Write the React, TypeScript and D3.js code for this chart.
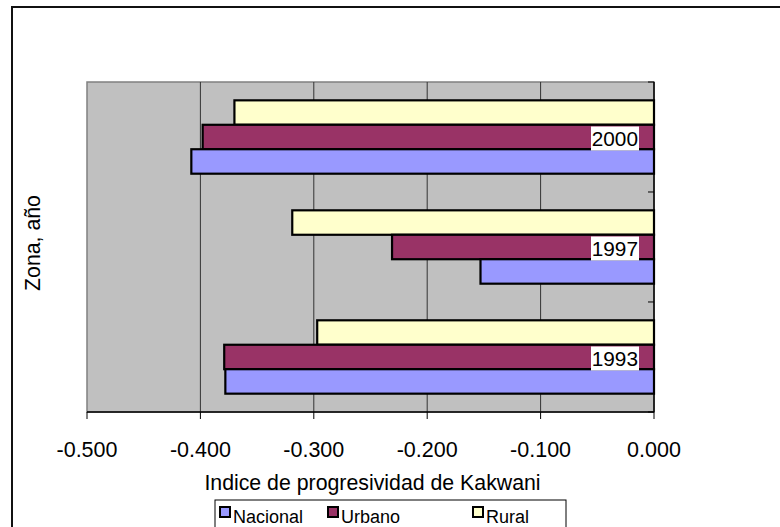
import React from "react";
import * as d3 from "d3";

const categories = ["2000", "1997", "1993"];
const seriesNames = ["Rural", "Urbano", "Nacional"];
const rural = [-0.370, -0.319, -0.297];
const urbano = [-0.398, -0.231, -0.379];
const nacional = [-0.408, -0.153, -0.378];
const xTicks = [-0.5, -0.4, -0.3, -0.2, -0.1, 0.0];
const xTickLabels = ["-0.500", "-0.400", "-0.300", "-0.200", "-0.100", "0.000"];
const legendNames = ["Nacional", "Urbano", "Rural"];
const colors: Record<string, string> = { Nacional: "#9999FF", Urbano: "#993366", Rural: "#FFFFCC" };

const FONT = "'Liberation Sans', Arial, Helvetica, sans-serif";

export default function App() {
  const W = 780, H = 527;
  const left = 87, right = 654, top = 82, bottom = 412;
  const x = d3.scaleLinear().domain([-0.5, 0]).range([left, right]);
  const y = d3.scaleBand().domain(categories).range([top, bottom]).paddingInner(0.333).paddingOuter(0.1667);
  const ySub = d3.scaleBand().domain(seriesNames).range([0, y.bandwidth()]);
  const dataBy: Record<string, number[]> = { Rural: rural, Urbano: urbano, Nacional: nacional };
  const bounds = d3.range(categories.length + 1).map(i => top + i * y.step());

  return (
    <svg width={W} height={H} style={{ position: "absolute", left: 0, top: 0 }} fontFamily={FONT}>
      <rect x={0} y={0} width={W} height={H} fill="#fff" />
      <rect x={12} y={7} width={900} height={700} fill="none" stroke="#111" strokeWidth={2} />
      <rect x={left} y={top} width={right - left} height={bottom - top} fill="#C0C0C0" stroke="#808080" strokeWidth={1.5} />
      {xTicks.filter(t => t > -0.5 && t < 0).map(t => (
        <line key={t} x1={x(t)} x2={x(t)} y1={top} y2={bottom} stroke="#333" strokeWidth={1} />
      ))}
      {categories.map((c, ci) =>
        seriesNames.map(s => {
          const v = dataBy[s][ci];
          const y0 = (y(c) as number) + (ySub(s) as number);
          return (
            <rect key={c + s} x={x(v)} y={y0} width={x(0) - x(v)} height={ySub.bandwidth()}
              fill={colors[s]} stroke="#000" strokeWidth={2.2} />
          );
        })
      )}
      {categories.map(c => {
        const yc = (y(c) as number) + (ySub("Urbano") as number) + ySub.bandwidth() / 2 + 1.5;
        return (
          <g key={"lab" + c}>
            <rect x={591} y={yc - 12} width={48} height={24} fill="#fff" />
            <text x={638} y={yc + 7.5} textAnchor="end" fontSize={20.8}>{c}</text>
          </g>
        );
      })}
      <line x1={right} x2={right} y1={top} y2={bottom} stroke="#000" strokeWidth={1.5} />
      {bounds.map((b, i) => (
        <line key={"yt" + i} x1={right - 6} x2={right} y1={b} y2={b} stroke="#000" strokeWidth={1} />
      ))}
      <line x1={left} x2={right} y1={bottom} y2={bottom} stroke="#000" strokeWidth={1.5} />
      {xTicks.map((t, i) => (
        <g key={"xt" + i}>
          <line x1={x(t)} x2={x(t)} y1={bottom} y2={bottom + 7} stroke="#000" strokeWidth={1} />
          <text x={x(t)} y={457} textAnchor="middle" fontSize={21.5}>{xTickLabels[i]}</text>
        </g>
      ))}
      <text x={372.5} y={490} textAnchor="middle" fontSize={21.3}>Indice de progresividad de Kakwani</text>
      <text transform={`translate(40,243) rotate(-90)`} textAnchor="middle" fontSize={21.3}>Zona, año</text>
      <rect x={215} y={500} width={351} height={60} fill="#fff" stroke="#000" strokeWidth={1} />
      {legendNames.map((n, i) => {
        const lx = [220, 328, 473][i];
        return (
          <g key={n}>
            <rect x={lx} y={507} width={10} height={10} fill={colors[n]} stroke="#000" strokeWidth={2} />
            <text x={lx + 13} y={523} fontSize={18}>{n}</text>
          </g>
        );
      })}
    </svg>
  );
}
